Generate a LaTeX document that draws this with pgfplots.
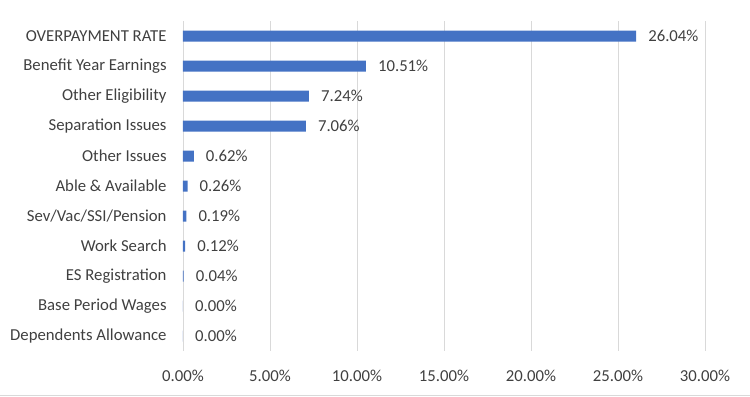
\documentclass[border=0pt]{standalone}
\usepackage{pgfplots}
\pgfplotsset{compat=1.18}
\usepackage{fontspec}
\setmainfont{Carlito}
\definecolor{barblue}{HTML}{4472C4}
\definecolor{txt}{HTML}{404040}
\definecolor{gridc}{HTML}{D9D9D9}
\begin{document}
\begin{tikzpicture}
\begin{axis}[
  name=ax,
  scale only axis,
  width=522bp, height=330bp,
  xbar, bar width=11bp,
  xmin=0, xmax=30,
  xtick={0,5,10,15,20,25,30},
  xticklabel={\pgfmathprintnumber[fixed,fixed zerofill,precision=2]{\tick}\%},
  ymin=-0.5, ymax=10.5, y dir=reverse,
  ytick={0,...,10},
  yticklabels={OVERPAYMENT RATE,Benefit Year Earnings,Other Eligibility,Separation Issues,Other Issues,Able \& Available,Sev/Vac/SSI/Pension,Work Search,ES Registration,Base Period Wages,Dependents Allowance},
  axis line style={draw=none},
  tick style={draw=none},
  xmajorgrids, major grid style={gridc, line width=0.8bp},
  /pgf/number format/assume math mode=true,
  tick label style={font=\fontsize{16.8}{19}\selectfont, text=txt},
  yticklabel style={inner sep=0pt, xshift=-12bp},
  xticklabel style={inner sep=0pt, yshift=-19bp},
  nodes near coords={\pgfmathprintnumber[fixed,fixed zerofill,precision=2]{\pgfplotspointmeta}\%},
  nodes near coords style={font=\fontsize{16.8}{19}\selectfont, text=txt, inner sep=0pt, xshift=12bp, anchor=west},
  point meta=x,
]
\addplot[fill=barblue, draw=none] coordinates {
(26.04,0) (10.51,1) (7.24,2) (7.06,3) (0.62,4) (0.26,5) (0.19,6) (0.12,7) (0.04,8) (0,9) (0,10)};
\end{axis}
\path[use as bounding box] ([xshift=-183bp,yshift=-46bp]ax.south west) rectangle ([xshift=45bp,yshift=21bp]ax.north east);
\draw[gridc, line width=1bp] ([xshift=-183bp,yshift=-44bp]ax.south west) -- ([xshift=45bp,yshift=-44bp]ax.south east);
\end{tikzpicture}
\end{document}
